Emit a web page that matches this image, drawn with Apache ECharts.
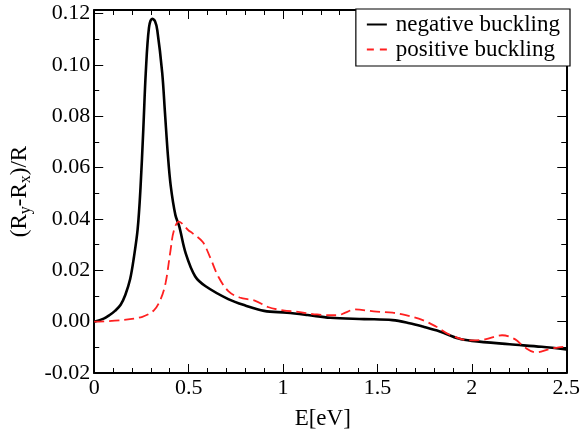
<!DOCTYPE html>
<html>
<head>
<meta charset="utf-8">
<script src="https://cdn.jsdelivr.net/npm/echarts@6/dist/echarts.min.js"></script>
<style>html,body{margin:0;padding:0;background:#fff;}#c{width:583px;height:435px;}</style>
</head>
<body>
<div id="c"></div>
<script>
var seriesNames = ['negative buckling', 'positive buckling'];
var negX = [0, 0.05, 0.08, 0.11, 0.14, 0.165, 0.19, 0.21, 0.23, 0.245, 0.26, 0.273, 0.29, 0.307, 0.322, 0.334, 0.36, 0.375, 0.39, 0.405, 0.43, 0.45, 0.485, 0.535, 0.59, 0.71, 0.80, 0.90, 1.02, 1.13, 1.25, 1.43, 1.58, 1.67, 1.74, 1.83, 1.93, 2.0, 2.2, 2.37, 2.5];
var negY = [0, 0.0012, 0.0025, 0.0042, 0.0066, 0.0105, 0.0165, 0.025, 0.036, 0.052, 0.075, 0.097, 0.1145, 0.118, 0.117, 0.1135, 0.097, 0.081, 0.065, 0.053, 0.0415, 0.0372, 0.0265, 0.0176, 0.0138, 0.0088, 0.0063, 0.0042, 0.0035, 0.0026, 0.0015, 0.0010, 0.0006, -0.0006, -0.0019, -0.0038, -0.0066, -0.0075, -0.0088, -0.0098, -0.0108];
var posX = [0, 0.15, 0.255, 0.316, 0.352, 0.378, 0.404, 0.421, 0.448, 0.5, 0.52, 0.575, 0.614, 0.657, 0.71, 0.77, 0.85, 0.92, 1.0, 1.08, 1.18, 1.29, 1.33, 1.38, 1.48, 1.58, 1.65, 1.74, 1.81, 1.88, 1.99, 2.07, 2.16, 2.23, 2.28, 2.34, 2.41, 2.46, 2.5];
var posY = [0, 0.0006, 0.0019, 0.0044, 0.0088, 0.0151, 0.0277, 0.0352, 0.039, 0.0355, 0.0345, 0.031, 0.025, 0.0176, 0.0119, 0.0094, 0.0082, 0.0057, 0.0044, 0.0038, 0.0028, 0.0025, 0.0035, 0.0048, 0.0040, 0.0035, 0.0025, 0.0006, -0.0019, -0.005, -0.0073, -0.0069, -0.0053, -0.0069, -0.010, -0.012, -0.0107, -0.010, -0.0098];
var xTicks = {min: 0, max: 2.5, interval: 0.5};
var yTicks = {min: -0.02, max: 0.1214, interval: 0.02};

function zip(xs, ys) { return xs.map(function (x, i) { return [x, ys[i]]; }); }

var FONT = "'Liberation Serif', 'Times New Roman', serif";
var chart = echarts.init(document.getElementById('c'), null, {renderer: 'canvas'});

function xAxisCfg(pos, showLabel, name) {
  return {
    type: 'value', position: pos, min: xTicks.min, max: xTicks.max, interval: xTicks.interval,
    name: name || '', nameLocation: 'middle', nameGap: 34,
    nameTextStyle: {fontFamily: FONT, fontSize: 23, color: '#000', padding: [0, 15, 0, 0]},
    axisLine: {show: true, onZero: false, lineStyle: {color: '#000', width: 2}},
    axisTick: {show: true, inside: true, length: 9, lineStyle: {color: '#000', width: 1}},
    minorTick: {show: true, splitNumber: 5, length: 5, lineStyle: {color: '#000', width: 1}},
    splitLine: {show: false}, minorSplitLine: {show: false},
    axisLabel: {show: showLabel, fontFamily: FONT, fontSize: 22, color: '#000', margin: 4}
  };
}
function yAxisCfg(pos, showLabel) {
  return {
    type: 'value', position: pos, min: yTicks.min, max: yTicks.max, interval: yTicks.interval,
    name: showLabel ? '{b|(R}{s|y}{b|-R}{s|x}{b|)/R}' : '',
    nameLocation: 'middle', nameGap: 56, nameRotate: 90,
    nameTextStyle: {fontFamily: FONT, color: '#000',
      rich: {b: {fontFamily: FONT, fontSize: 23, color: '#000'},
             s: {fontFamily: FONT, fontSize: 16, color: '#000', padding: [12, 0, 0, 0]}}},
    axisLine: {show: true, onZero: false, lineStyle: {color: '#000', width: 2}},
    axisTick: {show: true, inside: true, length: 9, lineStyle: {color: '#000', width: 1}},
    minorTick: {show: true, splitNumber: 2, length: 5, lineStyle: {color: '#000', width: 1}},
    splitLine: {show: false}, minorSplitLine: {show: false},
    axisLabel: {show: showLabel, showMaxLabel: false, fontFamily: FONT, fontSize: 22, color: '#000', margin: 4,
      formatter: function (v) { return Math.abs(v) < 1e-9 ? '0.00' : v.toFixed(2); }}
  };
}

chart.setOption({
  animation: false,
  backgroundColor: '#fff',
  grid: {left: 94, right: 11.5, top: 10, bottom: 49, containLabel: false},
  xAxis: [xAxisCfg('bottom', true, 'E[eV]'), xAxisCfg('top', false)],
  yAxis: [yAxisCfg('left', true), yAxisCfg('right', false)],
  legend: {
    show: true, orient: 'vertical', right: 13, top: 9,
    backgroundColor: '#fff', borderColor: '#000', borderWidth: 1.2, borderRadius: 0,
    padding: [4, 10, 5, 10], itemGap: 2, itemWidth: 20, itemHeight: 14,
    itemStyle: {opacity: 0, color: 'rgba(0,0,0,0)', borderWidth: 0},
    textStyle: {fontFamily: FONT, fontSize: 23, color: '#000', padding: [0, 0, 0, 4]},
    data: [
      {name: seriesNames[0]},
      {name: seriesNames[1], lineStyle: {type: [7, 6]}}
    ]
  },
  series: [
    {name: seriesNames[0], type: 'line', data: zip(negX, negY), smooth: 0.35, symbol: 'none', showSymbol: false,
     lineStyle: {color: '#000', width: 2.6}, itemStyle: {color: '#000'}, z: 3},
    {name: seriesNames[1], type: 'line', data: zip(posX, posY), smooth: 0.35, symbol: 'none', showSymbol: false,
     lineStyle: {color: '#ff2020', width: 1.8, type: [10, 5]}, itemStyle: {color: '#ff2020'}, z: 4}
  ]
});
</script>
</body>
</html>
